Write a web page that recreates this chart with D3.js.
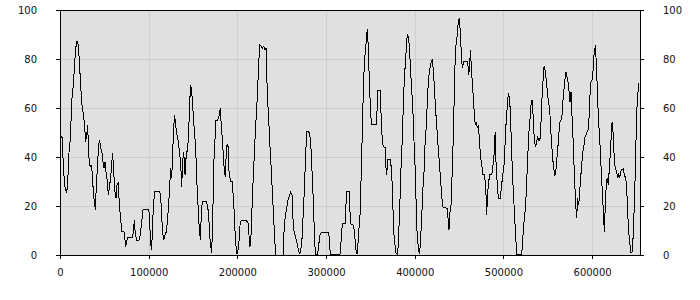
<!DOCTYPE html>
<html>
<head>
<meta charset="utf-8">
<script src="https://cdn.jsdelivr.net/npm/d3@7"></script>
<style>
  body { margin: 0; background: #fff; }
  .axis text { font-family: "DejaVu Sans", sans-serif; font-size: 10px; fill: #111; }
  .axis path, .axis line { stroke: #000; shape-rendering: crispEdges; }
</style>
</head>
<body>
<div id="chart"></div>
<script>
// data
var positions = [1100,2600,3800,5600,7500,8600,10200,11300,12400,13200,15000,16200,17700,19200,20700,21800,23300,24400,25900,27400,28900,30100,31200,32000,33100,34600,35700,36800,38300,39800,41000,42100,43600,44700,45900,47000,48500,49600,50700,51900,53400,54500,56000,57100,58300,59400,60500,62000,63200,64300,65800,66900,68400,69500,71400,72500,74100,75200,76300,81600,82700,83800,85000,86500,89100,90600,92100,93600,99600,100700,101900,103000,104100,105300,106400,107100,112400,113500,114700,115800,116900,118400,119900,121400,122500,123700,124800,125900,127100,127800,129300,130400,131900,133400,134600,136100,137200,138300,139500,141000,142100,143200,144000,145500,146600,147400,148500,149600,150700,152200,153400,154500,155600,156800,158300,159400,160500,165400,167300,169100,171000,172100,173700,174800,175900,177800,179700,180800,181500,182700,184200,185300,186400,187200,188300,189400,190200,191300,192800,194300,195500,196600,197700,199200,200300,201800,203000,204100,210500,212400,213500,214200,215400,216500,218000,219100,220300,221800,222900,224000,225200,226700,228200,229700,231200,232300,233000,234200,235300,236400,237600,238700,239800,240900,242100,243200,251800,252600,254100,255600,256700,258200,260100,261600,262700,263900,265400,266900,268400,269900,271400,272900,274400,275900,277000,278200,280400,281900,283000,284200,285700,286800,287900,290600,291700,293200,294700,302600,303700,304800,315700,317200,318400,321400,323200,325900,327000,328100,331100,332600,334100,335300,336800,338300,339400,340900,342000,343200,344700,345800,346600,347700,348800,349900,351100,356700,357800,358200,361200,362300,363500,364600,366900,367600,368400,369500,372500,374000,375100,376200,377800,378900,380800,381900,383400,384500,386000,387100,388300,389800,390900,391700,393200,394300,395400,396900,398100,399200,400300,401400,402600,404100,405200,406300,407800,409000,410500,411600,413100,414200,415300,416500,418000,419900,421000,422100,423200,424700,426200,427700,429300,430400,431500,434100,436400,437500,438600,439800,440900,442000,443200,444300,445400,446500,448000,449200,450300,451400,452900,454100,454800,459700,460800,462000,462700,463500,464600,466100,467200,468300,469500,470600,471700,472900,474000,475500,477000,478500,480000,481100,482300,483400,484500,486800,487900,489400,490100,490900,491600,493100,494300,496500,498000,499200,500700,501800,502900,504400,505500,507000,508200,509300,510400,511600,512700,513800,514900,520600,522100,523600,525100,526200,527700,528800,530000,531100,532200,533700,534900,536400,537500,538600,540100,541300,542400,543500,544600,545800,547300,548800,550300,551400,552500,553700,555200,556300,557800,558900,560000,561600,562700,563800,564900,566100,567600,569100,570600,571700,572800,574000,575100,576200,577300,578500,579600,580700,581900,582600,583700,584900,586000,587100,588200,589700,590900,592000,593100,594300,595400,596500,597600,598800,599900,601000,602100,603700,605200,606300,607400,608900,610000,611500,612700,613800,614900,616100,617200,618300,619400,620900,622100,622800,624000,625100,626200,627700,628800,630000,631100,632200,633300,635200,636400,637900,639000,640100,641200,642700,643900,645400,646500,648000,649100,650300,651800,652900];
var values = [48.3,48,35.4,27.9,25.2,29.3,42.2,46.3,54.4,62.6,69.4,76.2,84.4,87.3,85.7,78.9,69.4,62.6,58.5,54.4,46.3,49,53,44.9,36.7,36.3,36.7,29.9,23.1,18.4,28.6,35.4,44.9,46.9,43.5,43,38.1,35.4,38.1,34,29.9,24.5,28.6,31.3,37.4,41.5,34,25.8,23.1,28.6,29.3,20.4,15,9.5,9.5,9.2,3.4,5.4,7.2,7.2,9.5,14.3,8.2,6.1,6.1,8.2,13.6,18.4,18.4,17,6.8,2,8.2,20.4,24.5,26.1,25.8,24.5,15,9.2,6.1,8.2,9.5,15,20.4,28.6,35.4,31.3,40.8,50.3,57.1,53.1,49,46.3,42.2,37.4,27.9,38.1,42.2,32.7,39.5,42.2,43,54.4,64.6,69.4,66.7,61.2,54.4,47.6,39.5,28.6,20.4,12.2,6.1,17.7,21.8,21.8,17.7,6.8,0.7,13.6,39.5,47.6,55.1,55.1,57.1,59.9,55.1,49,40.8,34,32,39.5,44.9,44.9,35.4,32,29.9,29.9,23.1,16.3,6.8,0.7,0.7,5.4,12.2,13.9,13.9,12.9,5.4,3.4,8.2,19.1,32.7,40.8,50.3,59.9,68,77.6,85.7,85.4,84.4,85.2,83.7,84.4,74.8,62.6,55.8,46.3,39.5,31.3,23.1,15,6.8,0,0,9.5,16.3,19.1,21.8,23.8,25.8,24.5,15,9.5,7.5,5.4,2.7,0.7,1.4,6.8,17.7,29.9,40.8,50.6,50.6,48.3,43.5,34,21.8,9.5,0.3,0.3,4.1,8.2,9.3,9.3,6.8,0.3,0.3,6.8,12.9,12.9,25.8,25.8,17.7,12.6,12.2,6.8,0.7,0.7,9.5,16.3,29.9,50.3,66.7,78.9,84.4,89.8,92.2,84.4,70.7,61.2,53.1,53.1,61.2,67.1,67.1,54.4,46.3,44.2,43.8,35.4,32.7,39.1,39.1,34,23.1,9.5,4.1,0.7,0.3,8.2,23.1,35.4,47.6,61.2,72.1,80.3,87.1,90.1,88.4,83,74.8,65.3,57.1,46.3,36.7,23.1,9.5,2.7,0.3,4.1,15,25.8,34,44.9,53.1,62.6,70.7,74.8,78.2,79.9,74.8,69.4,61.2,53.1,44.9,38.1,29.9,24.5,19.7,19.3,19,15,10.2,17.7,20.4,31.3,44.9,61.2,77.6,85.7,89.8,95.9,96.3,91.2,78.9,76.2,78.9,78.9,73.5,77.6,83.7,78.9,72.1,64,57.1,53.1,54.4,51.7,53.1,47.6,40.8,36.7,32.7,32.7,28.6,16.3,25.8,29.9,32.7,32.7,35.4,40.8,47.6,50.3,38.1,28.6,23.1,23.1,28.6,32.7,36.7,44.9,53.1,61.2,66,64,54.4,42.2,31.3,23.1,15,8.2,0.3,0.3,8.2,15,20.4,29.9,42.2,50.3,55.8,61.2,63.3,55.8,46.3,44.2,46.3,47.9,46.5,47.6,54.4,64,70.7,76.9,74.8,69.4,64,61.2,57.1,49,40.8,36.7,32.7,33.3,38.1,44.9,50.3,54.4,55.1,57.1,65.3,70.7,74.8,72.8,70.7,66.7,62.6,66.7,57.1,47.6,36.7,27.2,18.4,15,23.1,20.4,25.8,31.3,36.7,42.2,44.9,48.3,49,50.3,51,55.8,65.3,70.7,71.4,74.8,81.6,85.7,74.8,62.6,54.4,44.9,36.7,25.8,17.7,9.2,20.4,29.9,31.3,28.6,35.4,43.5,53.1,54.4,47.6,38.1,35.4,34,31.3,33.3,31.3,34,34.7,35.1,32.7,31.3,27.2,17.7,9.5,4.1,0.7,1.4,9.5,24.5,40.8,58.5,66.7,70.3];

var xTicks = [0, 100000, 200000, 300000, 400000, 500000, 600000];
var yTicks = [0, 20, 40, 60, 80, 100];

var svgWidth = 700;
var svgHeight = 300;
var margin = { top: 10, right: 60, bottom: 45, left: 60 };
var width = svgWidth - margin.left - margin.right;
var height = svgHeight - margin.top - margin.bottom;

var points = positions.map(function(p, i) { return { x: p, y: values[i] }; });

var svg = d3.select("#chart")
    .append("svg")
    .attr("width", svgWidth)
    .attr("height", svgHeight);

var chartGroup = svg.append("g")
    .attr("transform", `translate(${margin.left}, ${margin.top})`);

var xScale = d3.scaleLinear().domain([0, 654000]).range([0, width]);
var yScale = d3.scaleLinear().domain([0, 100]).range([height, 0]);

// plot background
chartGroup.append("rect")
    .attr("width", width)
    .attr("height", height)
    .attr("fill", "#e0e0e0");

// grid
chartGroup.append("g").selectAll("line").data(xTicks.slice(1)).enter()
    .append("line")
    .attr("x1", d => Math.round(xScale(d)) + 0.5)
    .attr("x2", d => Math.round(xScale(d)) + 0.5)
    .attr("y1", 0).attr("y2", height)
    .attr("stroke", "#cdcdcd");
chartGroup.append("g").selectAll("line").data(yTicks.slice(1, -1)).enter()
    .append("line")
    .attr("y1", d => Math.round(yScale(d)) + 0.5)
    .attr("y2", d => Math.round(yScale(d)) + 0.5)
    .attr("x1", 0).attr("x2", width)
    .attr("stroke", "#cdcdcd");

// the series
var line = d3.line()
    .x(d => xScale(d.x))
    .y(d => yScale(d.y));

chartGroup.append("path")
    .datum(points)
    .attr("d", line)
    .attr("fill", "none")
    .attr("stroke", "#000")
    .attr("stroke-width", 1)
    .attr("shape-rendering", "crispEdges");

// axes
var bottomAxis = d3.axisBottom(xScale).tickValues(xTicks).tickFormat(d3.format("d")).tickSizeInner(4).tickSizeOuter(0).tickPadding(10);
var leftAxis = d3.axisLeft(yScale).tickValues(yTicks).tickSizeInner(4).tickSizeOuter(0).tickPadding(19);
var rightAxis = d3.axisRight(yScale).tickValues(yTicks).tickSizeInner(4).tickSizeOuter(0).tickPadding(19);

chartGroup.append("g").attr("class", "axis")
    .attr("transform", `translate(0, ${height})`)
    .call(bottomAxis);
chartGroup.append("g").attr("class", "axis")
    .call(leftAxis);
chartGroup.append("g").attr("class", "axis")
    .attr("transform", `translate(${width}, 0)`)
    .call(rightAxis);

// top border
chartGroup.append("line")
    .attr("x1", 0).attr("x2", width)
    .attr("y1", 0.5).attr("y2", 0.5)
    .attr("stroke", "#000")
    .attr("shape-rendering", "crispEdges");
</script>
</body>
</html>
